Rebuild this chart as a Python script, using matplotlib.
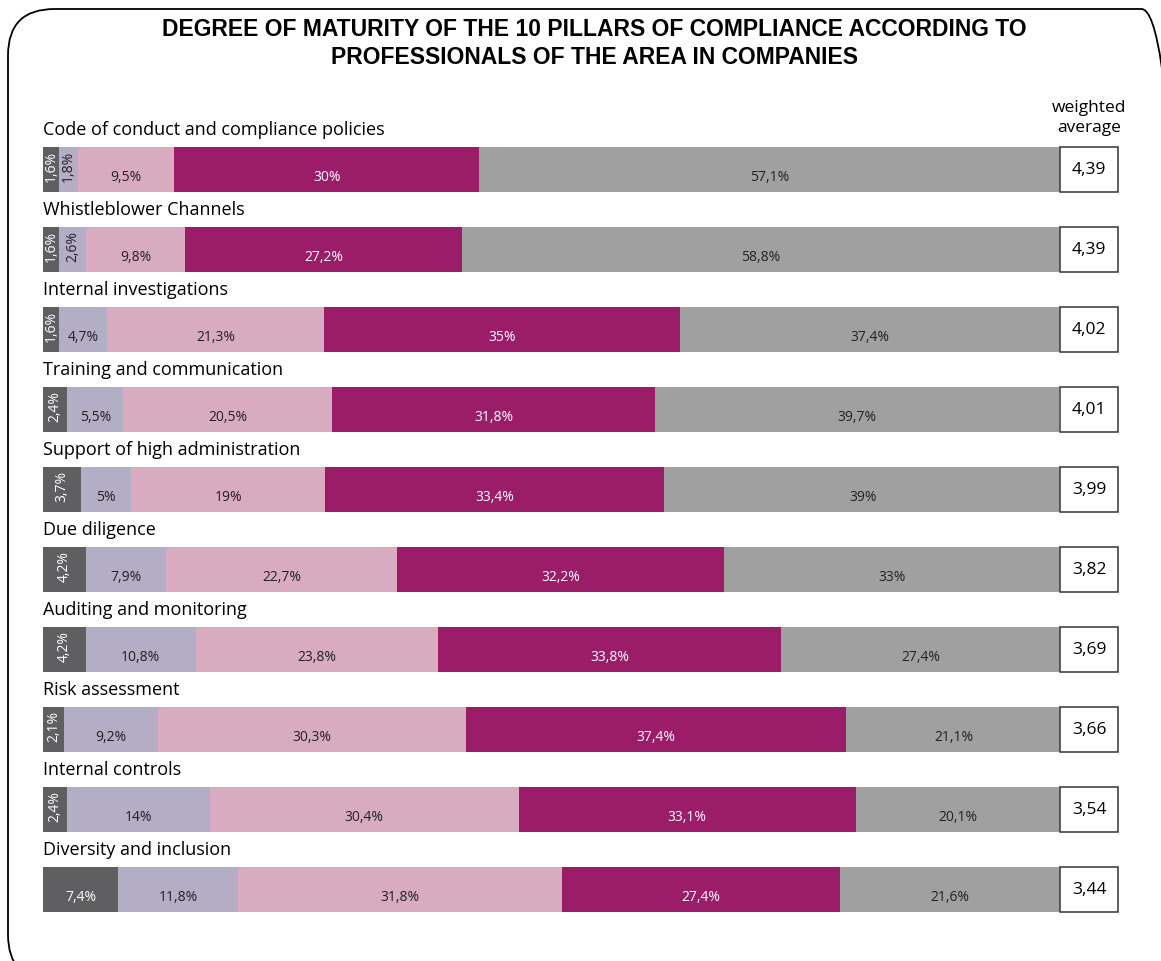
import matplotlib.pyplot as plt
from matplotlib.patches import FancyBboxPatch, Rectangle

# data
pillars = ['Code of conduct and compliance policies', 'Whistleblower Channels',
           'Internal investigations', 'Training and communication',
           'Support of high administration', 'Due diligence',
           'Auditing and monitoring', 'Risk assessment', 'Internal controls',
           'Diversity and inclusion']
level1 = [1.6, 1.6, 1.6, 2.4, 3.7, 4.2, 4.2, 2.1, 2.4, 7.4]
level2 = [1.8, 2.6, 4.7, 5.5, 5, 7.9, 10.8, 9.2, 14, 11.8]
level3 = [9.5, 9.8, 21.3, 20.5, 19, 22.7, 23.8, 30.3, 30.4, 31.8]
level4 = [30, 27.2, 35, 31.8, 33.4, 32.2, 33.8, 37.4, 33.1, 27.4]
level5 = [57.1, 58.8, 37.4, 39.7, 39, 33, 27.4, 21.1, 20.1, 21.6]
weighted_avg = [4.39, 4.39, 4.02, 4.01, 3.99, 3.82, 3.69, 3.66, 3.54, 3.44]

levels = [level1, level2, level3, level4, level5]
colors = ['#5f5f61', '#b3adc6', '#d8abc0', '#9b1c68', '#a0a0a0']
text_colors = ['white', '#222222', '#222222', 'white', '#222222']

plt.rcParams['font.family'] = ['Open Sans', 'DejaVu Sans']

fig = plt.figure(figsize=(11.61, 9.62), dpi=100)

# rounded frame
frame = FancyBboxPatch((8 / 1161, -20 / 962), 1180 / 1161, 972 / 962,
                       boxstyle='round,pad=0,rounding_size=0.04',
                       transform=fig.transFigure, fill=False,
                       edgecolor='black', linewidth=1.3, mutation_aspect=1161 / 962)
fig.patches.append(frame)

fig.text(0.512, 1 - 30 / 962, 'DEGREE OF MATURITY OF THE 10 PILLARS OF COMPLIANCE ACCORDING TO',
         ha='center', va='center', fontsize=16.5, fontweight='bold', family='Liberation Sans')
fig.text(0.512, 1 - 58 / 962, 'PROFESSIONALS OF THE AREA IN COMPANIES',
         ha='center', va='center', fontsize=16.5, fontweight='bold', family='Liberation Sans')

xmax = 100 * 1075 / 1017
ax = fig.add_axes([43 / 1161, 1 - 930 / 962, 1075 / 1161, 830 / 962])
ax.set_xlim(0, xmax)
ax.set_ylim(9.494, -0.881)
ax.axis('off')

bar_h = 45 / 80
for i in range(len(pillars)):
    left = 0
    for k, lev in enumerate(levels):
        v = lev[i]
        ax.barh(i, v, left=left, height=bar_h, color=colors[k], edgecolor='none')
        lab = f'{v:g}'.replace('.', ',') + '%'
        cx = left + v / 2
        if v < 4.5:
            ax.text(cx, i - 0.05, lab, rotation=90, ha='center', va='center',
                    fontsize=10, color=text_colors[k])
        else:
            ax.text(cx, i + 0.09, lab, ha='center', va='center',
                    fontsize=10, color=text_colors[k])
        left += v
    # weighted average box
    ax.add_patch(Rectangle((100, i - bar_h / 2), xmax - 100, bar_h,
                           facecolor='white', edgecolor='#444444', linewidth=1.2,
                           zorder=5, clip_on=False))
    ax.text((100 + xmax) / 2, i, f'{weighted_avg[i]:.2f}'.replace('.', ','),
            ha='center', va='center', fontsize=12.5, zorder=6)
    ax.text(0, i - 0.5, pillars[i], ha='left', va='center', fontsize=13)

ax.text((100 + xmax) / 2, -0.66, 'weighted\naverage', ha='center', va='center',
        fontsize=12.5, linespacing=1.35)

fig.savefig('out.png', dpi=100)
